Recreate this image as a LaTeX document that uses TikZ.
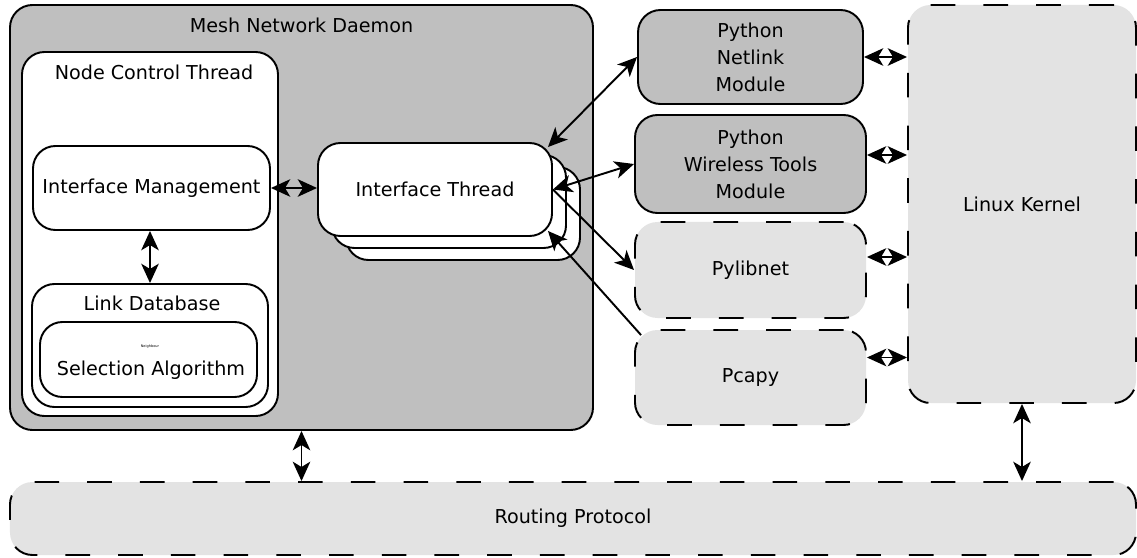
\documentclass[tikz,border=0pt]{standalone}
\usepackage{fontspec}
\setmainfont{DejaVu Sans}
\usetikzlibrary{arrows.meta}
\definecolor{daemongray}{gray}{0.75}
\definecolor{libgray}{gray}{0.89}

\begin{document}
\begin{tikzpicture}[x=0.2mm, y=-0.2mm, line width=1.1pt, font=\fontsize{10.9}{15.4}\selectfont, box/.style={draw,rounded corners=4.5mm,inner sep=0pt,align=center}, mod/.style={box,fill=daemongray}, lib/.style={box,fill=libgray,dash pattern=on 14pt off 16pt}, wbox/.style={box,fill=white}, >={Stealth[length=11pt,width=10pt,inset=3pt]}]
\useasboundingbox (0,0) rectangle (1137,558);
\node[mod,minimum width=116.6mm,minimum height=85mm] (D) at (301.5,217.5) {};
\node (Dt) at (301.5,25) {Mesh Network Daemon};
\node[wbox,minimum width=51.2mm,minimum height=72.8mm] (N) at (150,234) {};
\node (Nt) at (154,72) {Node Control Thread};
\node[wbox,minimum width=47.4mm,minimum height=16.8mm] (IM) at (151.5,188) {Interface Management};
\node[wbox,minimum width=47.2mm,minimum height=24.6mm] (LD) at (150,345.5) {};
\node (LDt) at (152,303) {Link Database};
\node[wbox,minimum width=43.4mm,minimum height=15mm] (SA) at (148.5,359.5) {};
\node[font=\fontsize{2}{2.4}\selectfont] (SAn) at (150,347) {Neighbour};
\node (SAt) at (151,370) {Selection Algorithm};
\node[wbox,minimum width=46.8mm,minimum height=18.6mm] (IT3) at (463,213.5) {};
\node[wbox,minimum width=46.8mm,minimum height=18.6mm] (IT2) at (449,201.5) {};
\node[wbox,minimum width=46.8mm,minimum height=18.6mm] (IT) at (435,189.5) {Interface Thread};
\node[mod,minimum width=45mm,minimum height=18.8mm] (PN) at (750.5,57) {Python\\Netlink\\Module};
\node[mod,minimum width=46.2mm,minimum height=19.6mm] (PW) at (750.5,164) {Python\\Wireless Tools\\Module};
\node[lib,minimum width=46.2mm,minimum height=19.2mm] (PL) at (750.5,270) {Pylibnet};
\node[lib,minimum width=46.2mm,minimum height=19mm] (PC) at (750.5,377.5) {Pcapy};
\node[lib,minimum width=45.6mm,minimum height=79.6mm] (K) at (1022,204) {Linux Kernel};
\node[lib,minimum width=225.2mm,minimum height=14.6mm] (RP) at (573,518.5) {Routing Protocol};
\coordinate (w) at ([yshift=1.8mm]PW.east);
\coordinate (l) at ([yshift=2.6mm]PL.east);
\coordinate (c) at ([yshift=4mm]PC.east);
\draw[<->] (IM.east) -- (IM.east -| IT.west);
\draw[<->] (LD.north) -- (LD.north |- IM.south);
\draw[<->] (D.south) -- (D.south |- RP.north);
\draw[<->] (K.south) -- (K.south |- RP.north);
\draw[<->] (PN.east) -- (PN.east -| K.west);
\draw[<->] (w) -- (w -| K.west);
\draw[<->] (l) -- (l -| K.west);
\draw[<->] (c) -- (c -| K.west);
\draw[<->] ([xshift=-1mm,yshift=-1mm]IT.north east) -- (PN.west);
\draw[<->] (IT.east) -- (PW.west);
\draw[->] (IT.east) -- (PL.west);
\draw[->] ([xshift=1.4mm,yshift=-1.2mm]PC.north west) -- ([xshift=-1mm,yshift=1.2mm]IT.south east);
\end{tikzpicture}
\end{document}
